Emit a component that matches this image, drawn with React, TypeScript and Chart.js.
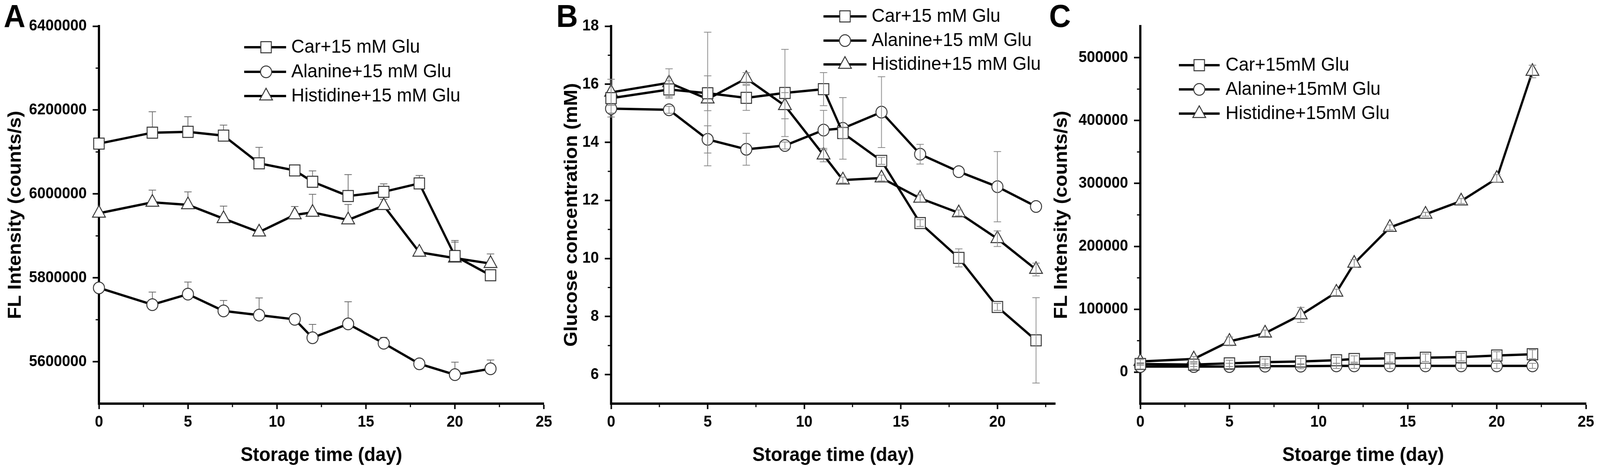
import { useEffect, useRef } from "react";
import { Chart, registerables } from "chart.js";
import { drawPoint } from "chart.js/helpers";

Chart.register(...registerables);

const FONT = "'Liberation Sans', Arial, Helvetica, sans-serif";

// storage days, shared by all three panels
const days = [0, 3, 5, 7, 9, 11, 12, 14, 16, 18, 20, 22];

// panel A - FL intensity (counts/s)
const carFlA = [6120000, 6146000, 6148000, 6139000, 6073000, 6056000, 6029000, 5995000, 6005000, 6025000, 5852000, 5806000];
const carFlAErr = [0, 50000, 36000, 25000, 38000, 7000, 26000, 51000, 19000, 19000, 37000, 10000];
const alaFlA = [5776000, 5736000, 5761000, 5721000, 5711000, 5701000, 5657000, 5690000, 5644000, 5595000, 5569000, 5583000];
const alaFlAErr = [0, 30000, 29000, 25000, 41000, 12000, 32000, 53000, 14000, 0, 30000, 21000];
const hisFlA = [5954000, 5980000, 5974000, 5941000, 5909000, 5950000, 5956000, 5938000, 5972000, 5861000, 5847000, 5834000];
const hisFlAErr = [0, 29000, 31000, 30000, 0, 20000, 43000, 37000, 15000, 0, 38000, 23000];

// panel B - glucose concentration (mM)
const carGluB = [15.52, 15.82, 15.69, 15.53, 15.7, 15.83, 14.32, 13.36, 11.22, 10.02, 8.33, 7.18];
const carGluBErr = [0.65, 0.3, 0.6, 0.43, 1.5, 0.57, 0.2, 0.12, 0.12, 0.31, 0.12, 1.47];
const alaGluB = [15.16, 15.12, 14.1, 13.76, 13.89, 14.42, 14.48, 15.04, 13.59, 12.99, 12.47, 11.79];
const alaGluBErr = [0.15, 0.12, 0.47, 0.55, 0.12, 0.68, 1.06, 1.22, 0.34, 0, 1.21, 0];
const hisGluB = [15.72, 16.05, 15.49, 16.2, 15.26, 13.56, 12.7, 12.77, 12.07, 11.57, 10.68, 9.62];
const hisGluBErr = [0.45, 0.48, 2.3, 0.2, 0.45, 0.23, 0.1, 0.1, 0.12, 0.1, 0.27, 0.22];

// panel C - FL intensity (counts/s)
const carFlC = [13000, 12000, 14000, 16000, 17000, 19000, 21000, 22000, 23000, 24000, 26500, 28500];
const carFlCErr = [2000, 3000, 5000, 5000, 5000, 5000, 5000, 6000, 6000, 6000, 6000, 7000];
const alaFlC = [9000, 9000, 9000, 9500, 9500, 10000, 10000, 10000, 10000, 10000, 10000, 10000];
const alaFlCErr = [4000, 4000, 5000, 4000, 4000, 4000, 4000, 4000, 4000, 4000, 4000, 4000];
const hisFlC = [17000, 21000, 49000, 62000, 91000, 127000, 173000, 230000, 251000, 272000, 308000, 478000];
const hisFlCErr = [3000, 4000, 7000, 5000, 12000, 5000, 6000, 4000, 3000, 4000, 6000, 10000];

// tick labels
const xTicksAC = [0, 5, 10, 15, 20, 25];
const xTicksB = [0, 5, 10, 15, 20];
const yTicksA = [5600000, 5800000, 6000000, 6200000, 6400000];
const yTicksB = [6, 8, 10, 12, 14, 16, 18];
const yTicksC = [0, 100000, 200000, 300000, 400000, 500000];

const namesAB = ["Car+15 mM Glu", "Alanine+15 mM Glu", "Histidine+15 mM Glu"];
const namesC = ["Car+15mM Glu", "Alanine+15mM Glu", "Histidine+15mM Glu"];

const markers = [
  { style: "rect", radius: 20 },
  { style: "circle", radius: 15 },
  { style: "triangle", radius: 20 }
];

// the figure is laid out on a 4317 x 1204 board, then fitted to the viewport width
const BOARD_W = 4317;
const HEIGHT = 1204;
const LINE_W = 6;

type PanelProps = {
  left: number;
  width: number;
  letter: string;
  letterX: number;
  xTitle: string;
  yTitle: string;
  yTitlePad: number;
  yAxisWidth: number;
  rightPad: number;
  xMax: number;
  xTicks: number[];
  yMin: number;
  yMax: number;
  yTicks: number[];
  series: number[][];
  errors: number[][];
  names: string[];
  errUpOnly: boolean;
  errColor: string;
  legend: { x1: number; x2: number; mx: number; tx: number; rows: number[] };
};

function minorValues(ticks: number[], min: number, max: number) {
  const step = ticks[1] - ticks[0];
  const out: number[] = [];
  for (let v = ticks[0] - step / 2; v < max; v += step) {
    if (v > min && v < max) out.push(v);
  }
  return out;
}

function makePlugin(p: PanelProps) {
  const drawErrors = (chart: any) => {
    const { ctx } = chart;
    const xs = chart.scales.x;
    const ys = chart.scales.y;
    const cap = 10;
    ctx.save();
    ctx.strokeStyle = p.errColor;
    ctx.lineWidth = 2;
    p.series.forEach((vals, si) => {
      vals.forEach((v, i) => {
        const e = p.errors[si][i];
        if (!e) return;
        const px = xs.getPixelForValue(days[i]);
        const top = ys.getPixelForValue(v + e);
        const bottom = ys.getPixelForValue(p.errUpOnly ? v : v - e);
        ctx.beginPath();
        ctx.moveTo(px, top);
        ctx.lineTo(px, bottom);
        ctx.moveTo(px - cap, top);
        ctx.lineTo(px + cap, top);
        if (!p.errUpOnly) {
          ctx.moveTo(px - cap, bottom);
          ctx.lineTo(px + cap, bottom);
        }
        ctx.stroke();
      });
    });
    ctx.restore();
  };

  return {
    id: "decor" + p.letter,
    beforeDatasetsDraw(chart: any) {
      const { ctx, chartArea } = chart;
      const xs = chart.scales.x;
      const ys = chart.scales.y;
      // minor ticks
      ctx.save();
      ctx.strokeStyle = "#000";
      ctx.lineWidth = 3;
      ctx.beginPath();
      minorValues(p.xTicks, 0, p.xMax).forEach((v) => {
        const px = xs.getPixelForValue(v);
        ctx.moveTo(px, chartArea.bottom);
        ctx.lineTo(px, chartArea.bottom + 9);
      });
      minorValues(p.yTicks, p.yMin, p.yMax).forEach((v) => {
        const py = ys.getPixelForValue(v);
        ctx.moveTo(chartArea.left, py);
        ctx.lineTo(chartArea.left - 9, py);
      });
      ctx.stroke();
      ctx.restore();
      if (p.errUpOnly) drawErrors(chart);
    },
    afterDatasetsDraw(chart: any) {
      if (!p.errUpOnly) drawErrors(chart);
    },
    afterDraw(chart: any) {
      const { ctx } = chart;
      ctx.save();
      p.names.forEach((name, i) => {
        const yy = p.legend.rows[i];
        ctx.strokeStyle = "#000";
        ctx.lineWidth = LINE_W;
        ctx.beginPath();
        ctx.moveTo(p.legend.x1, yy);
        ctx.lineTo(p.legend.x2, yy);
        ctx.stroke();
        ctx.fillStyle = "#fff";
        ctx.strokeStyle = "#333";
        ctx.lineWidth = 2.5;
        drawPoint(ctx, { pointStyle: markers[i].style as any, radius: markers[i].radius, borderWidth: 2.5, rotation: 0 }, p.legend.mx, yy);
        ctx.fillStyle = "#000";
        ctx.font = `49px ${FONT}`;
        ctx.textAlign = "left";
        ctx.textBaseline = "middle";
        ctx.fillText(name, p.legend.tx, yy);
      });
      ctx.fillStyle = "#000";
      ctx.font = `bold 81px ${FONT}`;
      ctx.textBaseline = "alphabetic";
      ctx.fillText(p.letter, p.letterX, 69);
      ctx.restore();
    }
  };
}

function Panel(props: PanelProps & { sx: number }) {
  const { sx, ...p } = props;
  const chartRef = useRef<HTMLCanvasElement | null>(null);
  const chartInstance = useRef<Chart | null>(null);

  useEffect(() => {
    if (!chartRef.current) return;
    if (chartInstance.current) chartInstance.current.destroy();

    const tickFont = { family: FONT, size: 40, weight: "bold" as const };
    const titleFont = { family: FONT, size: 50, weight: "bold" as const };

    chartInstance.current = new Chart(chartRef.current, {
      type: "line",
      data: {
        datasets: p.series.map((vals, si) => ({
          label: p.names[si],
          data: vals.map((v, i) => ({ x: days[i], y: v })),
          borderColor: "#000",
          borderWidth: LINE_W,
          pointStyle: markers[si].style as any,
          pointRadius: markers[si].radius,
          pointBackgroundColor: "#fff",
          pointBorderColor: "#333",
          pointBorderWidth: 2.5,
          tension: 0,
          fill: false,
          clip: false as any
        }))
      },
      options: {
        responsive: false,
        animation: false,
        events: [],
        layout: { padding: { top: 67, right: p.rightPad, left: 0, bottom: 0 } },
        plugins: { legend: { display: false }, tooltip: { enabled: false } },
        scales: {
          x: {
            type: "linear",
            min: 0,
            max: p.xMax,
            afterBuildTicks: (s: any) => {
              s.ticks = p.xTicks.map((v) => ({ value: v }));
            },
            afterFit: (s: any) => {
              s.height = 170;
            },
            grid: { drawOnChartArea: false, drawTicks: true, tickLength: 14, tickWidth: 4, tickColor: "#000" },
            border: { display: true, color: "#000", width: 6 },
            ticks: { font: tickFont, color: "#000", padding: 10, autoSkip: false, maxRotation: 0, callback: (v: any) => String(v) },
            title: { display: true, text: p.xTitle, font: titleFont, color: "#000", padding: { top: 0, bottom: 7 } }
          },
          y: {
            type: "linear",
            min: p.yMin,
            max: p.yMax,
            afterBuildTicks: (s: any) => {
              s.ticks = p.yTicks.map((v) => ({ value: v }));
            },
            afterFit: (s: any) => {
              s.width = p.yAxisWidth;
            },
            grid: { drawOnChartArea: false, drawTicks: true, tickLength: 17, tickWidth: 4, tickColor: "#000" },
            border: { display: true, color: "#000", width: 6 },
            ticks: { font: tickFont, color: "#000", padding: 16, autoSkip: false, callback: (v: any) => String(v) },
            title: { display: true, text: p.yTitle, font: titleFont, color: "#000", padding: { top: p.yTitlePad, bottom: 0 } }
          }
        }
      },
      plugins: [makePlugin(p)]
    });

    return () => {
      if (chartInstance.current) {
        chartInstance.current.destroy();
        chartInstance.current = null;
      }
    };
  }, []);

  // canvas keeps board pixels; its css box is fitted to the viewport width
  return (
    <canvas
      ref={chartRef}
      width={p.width}
      height={HEIGHT}
      style={{ position: "absolute", left: p.left * sx, top: 0, width: p.width * sx, height: HEIGHT }}
    />
  );
}

const panelA: PanelProps = {
  left: 0,
  width: 1500,
  letter: "A",
  letterX: 10,
  xTitle: "Storage time (day)",
  yTitle: "FL Intensity (counts/s)",
  yTitlePad: 12,
  yAxisWidth: 267,
  rightPad: 31,
  xMax: 25,
  xTicks: xTicksAC,
  yMin: 5500000,
  yMax: 6400000,
  yTicks: yTicksA,
  series: [carFlA, alaFlA, hisFlA],
  errors: [carFlAErr, alaFlAErr, hisFlAErr],
  names: namesAB,
  errUpOnly: true,
  errColor: "#6a6a6a",
  legend: { x1: 659, x2: 772, mx: 718, tx: 786, rows: [121, 184, 246] }
};

const panelB: PanelProps = {
  left: 1480,
  width: 1390,
  letter: "B",
  letterX: 21,
  xTitle: "Storage time (day)",
  yTitle: "Glucose concentration (mM)",
  yTitlePad: 33,
  yAxisWidth: 169,
  rightPad: 19,
  xMax: 23,
  xTicks: xTicksB,
  yMin: 5,
  yMax: 18,
  yTicks: yTicksB,
  series: [carGluB, alaGluB, hisGluB],
  errors: [carGluBErr, alaGluBErr, hisGluBErr],
  names: namesAB,
  errUpOnly: false,
  errColor: "#8a8a8a",
  legend: { x1: 742, x2: 858, mx: 800, tx: 872, rows: [42, 104, 165] }
};

const panelC: PanelProps = {
  left: 2825,
  width: 1492,
  letter: "C",
  letterX: 6,
  xTitle: "Stoarge time (day)",
  yTitle: "FL Intensity (counts/s)",
  yTitlePad: 10,
  yAxisWidth: 252,
  rightPad: 38,
  xMax: 25,
  xTicks: xTicksAC,
  yMin: -50000,
  yMax: 550000,
  yTicks: yTicksC,
  series: [carFlC, alaFlC, hisFlC],
  errors: [carFlCErr, alaFlCErr, hisFlCErr],
  names: namesC,
  errUpOnly: false,
  errColor: "#8a8a8a",
  legend: { x1: 356, x2: 466, mx: 411, tx: 482, rows: [167, 229, 291] }
};

export default function App() {
  const sx = Math.min(1, window.innerWidth / BOARD_W);
  return (
    <div style={{ position: "absolute", left: 0, top: 0, width: BOARD_W * sx, height: HEIGHT, background: "#fff", overflow: "hidden" }}>
      <Panel {...panelA} sx={sx} />
      <Panel {...panelB} sx={sx} />
      <Panel {...panelC} sx={sx} />
    </div>
  );
}
